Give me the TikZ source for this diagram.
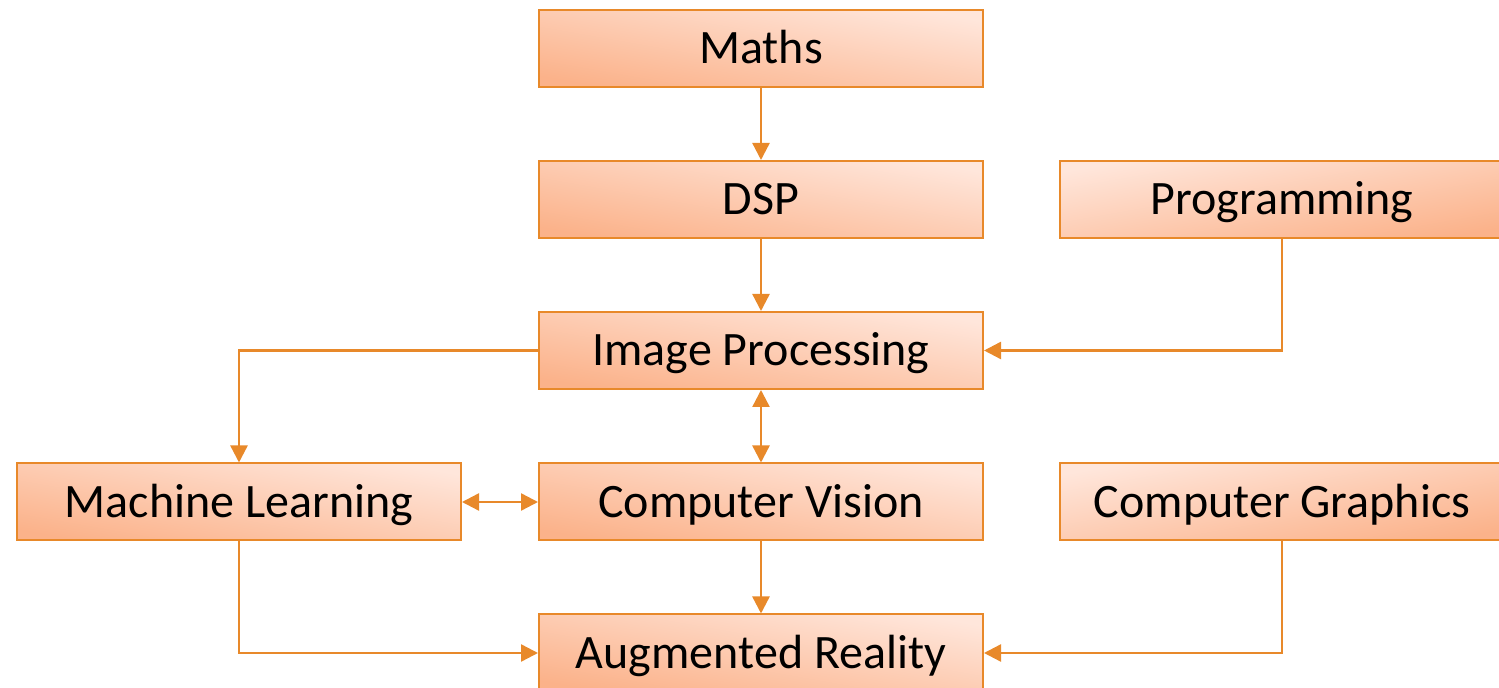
\documentclass[tikz,border=0pt]{standalone}
\usepackage{fontspec}
\setmainfont{Carlito}
\usetikzlibrary{arrows.meta}
\definecolor{edge}{HTML}{E8892A}
\definecolor{dark}{HTML}{FBB28A}
\definecolor{light}{HTML}{FFE6DB}
\tikzset{
  boxbase/.style={draw=edge, line width=1pt, minimum width=222pt, minimum height=38.5pt,
    inner sep=0pt, text height=15.5pt, text depth=0pt,
    font=\fontsize{24}{28}\selectfont, text=black},
  boxL/.style={boxbase, top color=light, bottom color=dark, shading angle=-10},
  boxR/.style={boxbase, top color=light, bottom color=dark, shading angle=10},
  tip/.style={Triangle[length=8.5pt,width=8.5pt]},
  arr/.style={draw=edge, line width=1.2pt, -{Triangle[length=8.5pt,width=8.5pt]}},
  arrboth/.style={draw=edge, line width=1.2pt, {Triangle[length=8.5pt,width=8.5pt]}-{Triangle[length=8.5pt,width=8.5pt]}}
}
\begin{document}
\begin{tikzpicture}[x=0.5pt,y=-0.5pt]
\useasboundingbox (0,0) rectangle (1499,688);
\clip (0,0) rectangle (1499,688);
\node[boxL] (maths) at (761,48.5) {Maths};
\node[boxL] (dsp) at (761,199.5) {DSP};
\node[boxR] (prog) at (1282,199.5) {Programming};
\node[boxL] (ip) at (761,350.5) {Image Processing};
\node[boxL] (ml) at (239,502) {Machine Learning};
\node[boxL] (cv) at (761,502) {Computer Vision};
\node[boxR] (cg) at (1282,502) {Computer Graphics};
\node[boxL] (ar) at (761,653) {Augmented Reality};
\draw[arr] (maths) -- (dsp);
\draw[arr] (dsp) -- (ip);
\draw[arr] (prog.south) |- (ip.east);
\draw[arr] (ip.west) -| (ml.north);
\draw[arrboth] (ip) -- (cv);
\draw[arrboth] (ml) -- (cv);
\draw[arr] (cv) -- (ar);
\draw[arr] (ml.south) |- (ar.west);
\draw[arr] (cg.south) |- (ar.east);
\end{tikzpicture}
\end{document}
